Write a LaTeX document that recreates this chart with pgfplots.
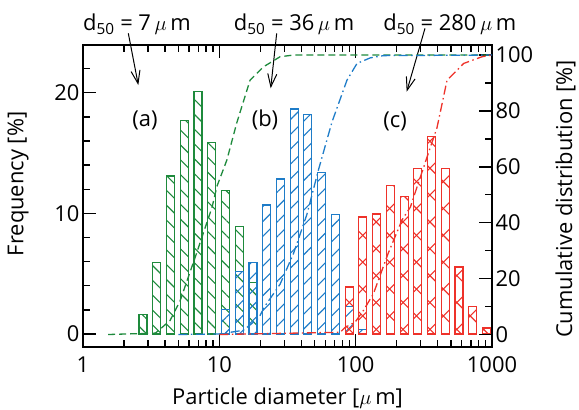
\documentclass[border=0pt]{standalone}
\usepackage{fontspec}
\setmainfont{Open Sans}
\usepackage{pgfplots}
\usepackage{pgfplotstable}
\pgfplotsset{compat=1.18}
\usetikzlibrary{patterns.meta,arrows.meta,calc}

\definecolor{cgreen}{RGB}{30,138,60}
\definecolor{cblue}{RGB}{30,124,200}
\definecolor{cred}{RGB}{238,50,42}

% frequency per size class, bars on a 0.1-decade grid
\pgfplotstableread{
d f
2.754 1.6
3.473 5.9
4.381 13.1
5.526 17.7
6.970 20.1
8.790 15.9
11.09 11.9
13.98 8.9
17.64 4.3
}\greentab
\pgfplotstableread{
d f
11.09 2.0
13.98 5.2
17.64 5.9
22.24 10.7
28.05 12.85
35.38 18.65
44.63 18.2
56.29 13.4
71.00 9.9
89.54 2.3
112.9 0.4
}\bluetab
\pgfplotstableread{
d f
89.54 3.9
112.9 9.7
142.4 9.95
179.7 12.3
226.6 11.4
285.8 13.7
360.5 16.4
454.7 13.7
573.5 5.55
723.4 2.3
912.0 0.5
}\redtab

\begin{document}
\begin{tikzpicture}[font=\fontsize{22}{26}\selectfont]
\begin{axis}[name=ax, clip=false,
    scale only axis, width=409bp, height=302bp,
    xmode=log, xmin=1, xmax=1000,
    tick align=inside,
    major tick length=13bp, minor tick length=7bp,
    every tick/.style={black, line width=1.4bp},
    axis line style={line width=1.8bp},
    /pgf/number format/assume math mode=true,
    tick label style={font=\fontsize{22}{26}\selectfont},
    label style={font=\fontsize{22}{26}\selectfont},
    ymin=-1.08, ymax=23.96,
    ytick={0,10,20}, minor ytick={2,4,6,8,12,14,16,18,22},
    ytick pos=left,
    xtick={1,10,100,1000}, xticklabels={1,10,100,1000},
    xticklabel style={yshift=-6bp},
    minor xtick={2,3,4,5,6,7,8,9,20,30,40,50,60,70,80,90,200,300,400,500,600,700,800,900},
    xlabel={Particle diameter [$\mu$\,m]},
    ylabel={Frequency [\%]},
    xlabel style={at={(rel axis cs:0.5,-0.168)}, anchor=center},
    ylabel style={at={(rel axis cs:-0.159,0.54)}, anchor=center},
  ]
  \addplot[ybar, bar width=8bp, bar shift=0pt, line width=1.2bp,
    draw=cgreen, pattern color=cgreen,
    pattern={Lines[angle=-45,distance=10.5bp,line width=1.1bp]}]
    table[x=d,y=f]{\greentab};
  \addplot[ybar, bar width=8bp, bar shift=0pt, line width=1.2bp,
    draw=cblue, pattern color=cblue,
    pattern={Lines[angle=45,distance=10.5bp,line width=1.1bp]}]
    table[x=d,y=f]{\bluetab};
  \addplot[ybar, bar width=8bp, bar shift=0pt, line width=1.2bp,
    draw=cred, pattern color=cred,
    pattern={Lines[angle=45,distance=19bp,line width=1.1bp]}]
    table[x=d,y=f]{\redtab};
  \addplot[ybar, bar width=8bp, bar shift=0pt, line width=1.2bp,
    draw=cred, pattern color=cred,
    pattern={Lines[angle=-45,distance=19bp,line width=1.1bp]}]
    table[x=d,y=f]{\redtab};

  \node at (rel axis cs:0.132,1.0695) {d\textsubscript{50} = 7\,$\mu$\,m};
  \node at (rel axis cs:0.516,1.0695) {d\textsubscript{50} = 36\,$\mu$\,m};
  \node at (rel axis cs:0.897,1.0695) {d\textsubscript{50} = 280\,$\mu$\,m};
  \draw[-{Straight Barb[length=13bp,width=9bp]}, line width=1bp]
    (rel axis cs:0.1108,1.0387) -- (rel axis cs:0.1352,0.8675);
  \draw[-{Straight Barb[length=13bp,width=9bp]}, line width=1bp]
    (rel axis cs:0.4736,1.0387) -- (rel axis cs:0.4589,0.8566);
  \draw[-{Straight Barb[length=13bp,width=9bp]}, line width=1bp]
    (rel axis cs:0.8362,1.0553) -- (rel axis cs:0.7914,0.8454);
  \node at (rel axis cs:0.1516,0.7517) {(a)};
  \node at (rel axis cs:0.445,0.7517) {(b)};
  \node at (rel axis cs:0.763,0.746) {(c)};
\end{axis}

\begin{axis}[
    scale only axis, width=409bp, height=302bp,
    xmode=log, xmin=1, xmax=1000,
    axis x line=none, axis y line*=right,
    tick align=inside,
    major tick length=13bp, minor tick length=7bp,
    every tick/.style={black, line width=1.4bp},
    axis line style={line width=1.8bp},
    /pgf/number format/assume math mode=true,
    tick label style={font=\fontsize{22}{26}\selectfont},
    label style={font=\fontsize{22}{26}\selectfont},
    ymin=-4.47, ymax=103.6,
    ytick={0,20,40,60,80,100}, minor ytick={10,30,50,70,90},
    ylabel={Cumulative distribution [\%]},
    ylabel style={at={(rel axis cs:1.18,0.49)}, anchor=center},
    no markers,
  ]
  \addplot[cgreen, line width=1.3bp, dash pattern=on 7bp off 4bp] coordinates {
    (1.53,0) (3.4,0.5) (4.35,5) (5.15,12) (6.8,29) (8.85,45.6) (9.6,53)
    (11.35,62.4) (13.4,75.6) (16.8,91) (21.1,95.8) (27.9,99.4) (35,100) (1000,100)
  };
  \addplot[cblue, line width=1.3bp, dash pattern=on 9bp off 3.5bp on 1.5bp off 3.5bp] coordinates {
    (5,0) (10,0.2) (15,1.5) (19.5,6) (21.5,10) (27.9,18) (35,29) (43.9,43)
    (53.4,59) (67,76) (86.3,91) (102.3,97) (128,99) (160,99.8) (1000,100)
  };
  \addplot[cred, line width=1.3bp, dash pattern=on 9bp off 3.5bp on 1.5bp off 3.5bp] coordinates {
    (10,0) (77,0.8) (84,2.6) (99,4.4) (114,8.6) (135,14.6) (173,29) (219,41)
    (252,45.6) (282,52.8) (353,67) (395,74) (468,91) (620,97) (845,99.4) (1000,100)
  };
\end{axis}

\pgfresetboundingbox
\path[use as bounding box] ($(ax.south west)+(-83bp,-63bp)$) rectangle ($(ax.north east)+(87bp,45bp)$);
\end{tikzpicture}
\end{document}
